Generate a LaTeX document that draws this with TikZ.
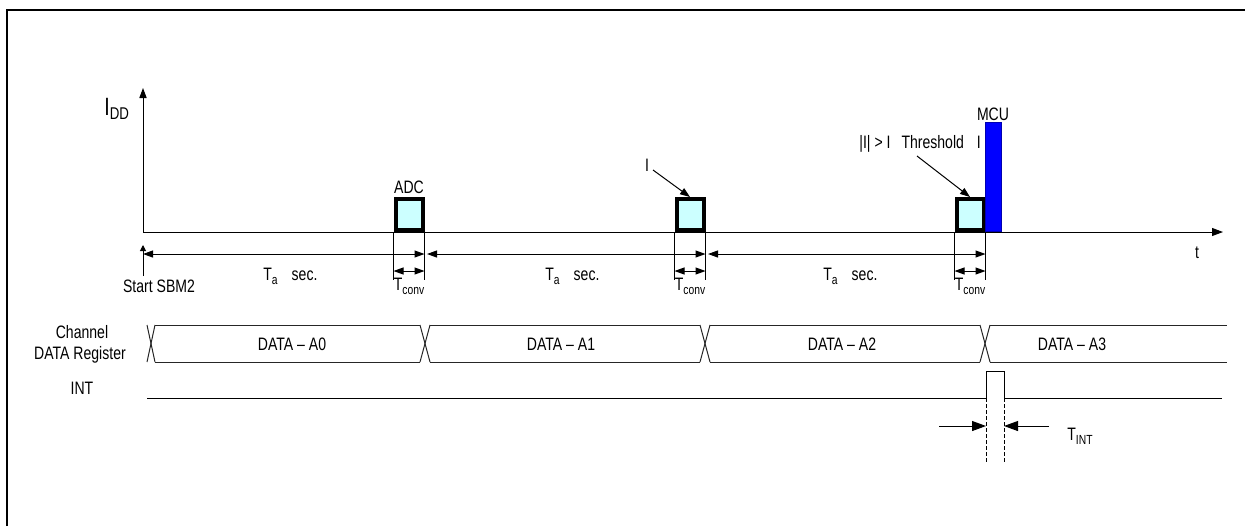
\documentclass[tikz,border=0pt]{standalone}
\usepackage{fontspec}
\setmainfont[FakeStretch=0.78]{Liberation Sans}
\usetikzlibrary{arrows.meta,calc}
\definecolor{lcyan}{HTML}{CCFFFF}
\definecolor{mcublue}{HTML}{0000FF}
\newcommand{\sbx}[1]{\raisebox{-0.45ex}{\fontsize{6.6}{7.5}\selectfont #1}}
\begin{document}
\begin{tikzpicture}[x=0.5pt,y=-0.5pt,
  lbl/.style={inner sep=0pt, font=\fontsize{9}{10.5}\selectfont},
  thin/.style={line width=0.5pt},
  tipa/.style={-{Triangle[length=5pt,width=3.6pt]}},
  bigtip/.style={-{Triangle[length=7pt,width=5pt]}},
  dim/.style={{Triangle[length=5pt,width=3.5pt]}-{Triangle[length=5pt,width=3.5pt]}},
  adcbox/.style={draw, line width=2pt, fill=lcyan, minimum width=13.5pt, minimum height=15.5pt, inner sep=0pt, anchor=south},
  mcubar/.style={draw=blue!70!black, line width=0.4pt, fill=mcublue, minimum width=8pt, minimum height=54.5pt, inner sep=0pt, anchor=south},
  bus/.style={line width=0.5pt, black!85}]
\useasboundingbox (0,0) rectangle (1245,526);
% frame
\draw[line width=1.3pt] (7,526) -- (7,10) -- (1245,10);
% axes
\coordinate (O) at (143,232);
\coordinate (ytip) at (143,88);
\coordinate (ttip) at (1223,232);
\draw[thin,-{Triangle[length=5pt,width=3.6pt]}] (O) -- (ytip);
\draw[thin,-{Triangle[length=5.5pt,width=4pt]}] (O) -- (ttip);
\node[lbl, anchor=base west] (idd) at (104,115) {\fontsize{12.5}{14}\selectfont I\raisebox{-0.35ex}{\fontsize{8.5}{9}\selectfont DD}};
\node[lbl, anchor=base] (t) at (1197,258) {t};
% start marker
\coordinate (st1) at (143,276);
\coordinate (st0) at (143,245);
\draw[thin,-{Triangle[length=3pt,width=3pt]}] (st1) -- (st0);
\node[lbl, anchor=base] (start) at (159,292) {Start SBM2};
% conversion boxes
\node[adcbox] (b1) at (409,232) {};
\node[adcbox] (b2) at (690,232) {};
\node[adcbox] (b3) at (970,232) {};
\node[mcubar] (mcu) at (993,232) {};
\node[lbl, anchor=base] (adc) at (409,193) {ADC};
\node[lbl, anchor=base] (mcul) at (993,120) {MCU};
% pointers
\node[lbl, anchor=base] (ilab) at (647,171) {I};
\draw[thin,tipa] (653,170) -- (b2.north);
\node[lbl, anchor=base west] (thr) at (859,148) {|I| > I\hspace{5.5pt}Threshold\hspace{6.5pt}I};
\draw[thin,tipa] (917,156) -- (b3.north);
% extension lines
\foreach \b in {b1,b2,b3}{
  \draw[thin] (\b.south west) -- ++(0,48);
  \draw[thin] (\b.south east) -- ++(0,48);
  \draw[thin,dim] ($(\b.south west)+(0,39)$) -- ($(\b.south east)+(0,39)$);
  \node[lbl, anchor=base] at ($(\b.south)+(0,58)$) {T\sbx{conv}};
}
% period dimension lines
\coordinate (s0) at (143,254);
\coordinate (e1) at ($(b1.south east)+(0,22)$);
\coordinate (e2) at ($(b2.south east)+(0,22)$);
\coordinate (e3) at ($(b3.south east)+(0,22)$);
\draw[thin,dim] (s0) -- (e1);
\draw[thin,dim] ($(e1)+(2.5,0)$) -- (e2);
\draw[thin,dim] ($(e2)+(2.5,0)$) -- (e3);
\node[lbl, anchor=base west] (ta1) at (263,280) {T\sbx{a}\hspace{7pt}sec.};
\node[lbl, anchor=base west] (ta2) at (545,280) {T\sbx{a}\hspace{7pt}sec.};
\node[lbl, anchor=base west] (ta3) at (823,280) {T\sbx{a}\hspace{7pt}sec.};
% channel data register bus
\node[lbl, anchor=base] (ch1) at (82,338) {Channel};
\node[lbl, anchor=base] (ch2) at (80,359) {DATA Register};
\node[lbl, anchor=base] (intl) at (82,394) {INT};
\draw[bus] (147,325) -- (155,362);
\draw[bus] (147,362) -- (155,325);
\foreach \c in {425,705,985}{
  \draw[bus] (\c-5,325) -- (\c+5,362);
  \draw[bus] (\c-5,362) -- (\c+5,325);
}
\draw[bus] (155,325) -- (420,325) (430,325) -- (700,325) (710,325) -- (980,325) (990,325) -- (1227,325);
\draw[bus] (155,362) -- (420,362) (430,362) -- (700,362) (710,362) -- (980,362) (990,362) -- (1227,362);
\node[lbl, anchor=base] (d0) at (292,350) {DATA – A0};
\node[lbl, anchor=base] (d1) at (561,350) {DATA – A1};
\node[lbl, anchor=base] (d2) at (842,350) {DATA – A2};
\node[lbl, anchor=base] (d3) at (1072,350) {DATA – A3};
% INT line
\coordinate (p0) at (986,398);
\coordinate (p1) at (1004,398);
\draw[thin] (147,398) -- (p0) -- (986,371) -- (1004,371) -- (p1) -- (1222,398);
\draw[thin,dash pattern=on 2pt off 1pt] (p0) -- (986,463);
\draw[thin,dash pattern=on 2pt off 1pt] (p1) -- (1004,463);
\coordinate (ti0) at (939,426);
\coordinate (ti1) at (1049,426);
\draw[thin,bigtip] (ti0) -- (986,426);
\draw[thin,bigtip] (ti1) -- (1004,426);
\node[lbl, anchor=base west] (tint) at (1067,440) {T\sbx{INT}};
\end{tikzpicture}
\end{document}
